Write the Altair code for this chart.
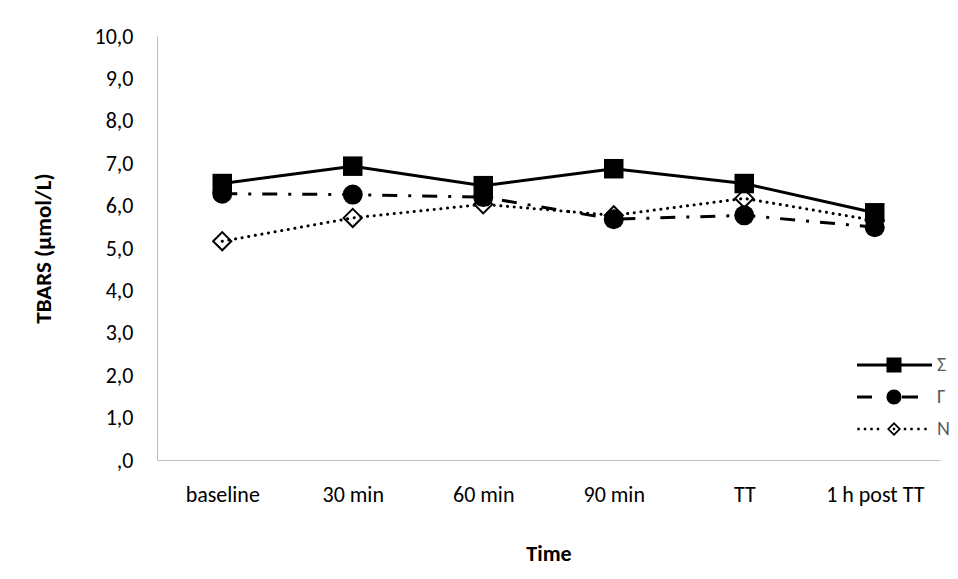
import altair as alt
import pandas as pd

# ---- data ----
times = ["baseline", "30 min", "60 min", "90 min", "TT", "1 h post TT"]
series_names = ["Σ", "Γ", "N"]
sigma_vals = [6.52, 6.93, 6.47, 6.87, 6.52, 5.83]
gamma_vals = [6.28, 6.26, 6.20, 5.68, 5.77, 5.49]
n_vals = [5.16, 5.71, 6.03, 5.77, 6.17, 5.65]
y_ticks = [0, 1, 2, 3, 4, 5, 6, 7, 8, 9, 10]

rows = []
for name, vals in zip(series_names, [sigma_vals, gamma_vals, n_vals]):
    for t, v in zip(times, vals):
        rows.append({"time": t, "series": name, "value": v})
df = pd.DataFrame(rows)

FONT = "Calibri, Carlito, Lato, sans-serif"


# ---- legend glyphs (line + marker), drawn as filled shapes ----
# units: 1 = sqrt(symbolSize)/2 px
def rect(x0, x1, h):
    return f"M{x0},{-h}L{x1},{-h}L{x1},{h}L{x0},{h}Z"


def dot(c, h=0.12):
    return rect(c - h, c + h, h)


leg_sigma = rect(-3.7, 3.8, 0.15) + rect(-0.75, 0.75, 0.75)
leg_gamma = (rect(-3.7, -2.2, 0.15) + rect(0.8, 2.4, 0.15)
             + "M-0.75,0A0.75,0.75,0,1,1,0.75,0A0.75,0.75,0,1,1,-0.75,0Z")
leg_n = ("".join(dot(c) for c in [-3.55, -2.9, -2.25, -1.6, 1.1, 1.75, 2.45, 3.15])
         + "M-0.7,0L0,-0.7L0.7,0L0,0.7Z"
         + "M-0.45,0L0,0.45L0.45,0L0,-0.45Z"
         + dot(0))

x_enc = alt.X(
    "time:N",
    sort=times,
    scale=alt.Scale(type="point", padding=0.5),
    axis=alt.Axis(
        title="Time",
        titleFont=FONT,
        titleFontSize=22,
        titleFontWeight="bold",
        titleColor="black",
        titleY=93,
        titleBaseline="middle",
        labelFont=FONT,
        labelFontSize=22,
        labelColor="black",
        labelPadding=24,
        labelAngle=0,
        ticks=False,
        grid=False,
        domainColor="#bfbfbf",
        domainWidth=1.2,
    ),
)
y_enc = alt.Y(
    "value:Q",
    scale=alt.Scale(domain=[0, 10], nice=False, zero=True),
    axis=alt.Axis(
        values=y_ticks,
        labelExpr="datum.value == 0 ? ',0' : replace(format(datum.value, '.1f'), '.', ',')",
        title="TBARS (µmol/L)",
        titleFont=FONT,
        titleFontSize=23,
        titleFontWeight="bold",
        titleColor="black",
        titleAngle=-90,
        titleX=-114,
        titleY=212,
        titleBaseline="middle",
        labelFont=FONT,
        labelFontSize=22,
        labelColor="black",
        labelPadding=24,
        ticks=False,
        grid=False,
        domainColor="#bfbfbf",
        domainWidth=1.2,
    ),
)

base = alt.Chart(df)

legend_layer = base.mark_point(
    filled=True, fill="black", opacity=0, size=400, strokeWidth=0
).encode(
    x=x_enc,
    y=y_enc,
    shape=alt.Shape(
        "series:N",
        scale=alt.Scale(domain=series_names, range=[leg_sigma, leg_gamma, leg_n]),
        legend=alt.Legend(
            title=None,
            orient="none",
            legendX=727,
            legendY=319,
            symbolSize=400,
            labelOffset=33,
            rowPadding=12,
            padding=0,
        ),
    ),
)


def series_layers(name, dash, cap, shape, filled, size, pstroke):
    d = base.transform_filter(alt.datum.series == name)
    line_kwargs = dict(color="black", strokeWidth=3, strokeCap=cap)
    if dash:
        line_kwargs["strokeDash"] = dash
    line = d.mark_line(**line_kwargs).encode(x=x_enc, y=y_enc)
    if filled:
        pts = d.mark_point(shape=shape, filled=True, fill="black", size=size,
                           opacity=1, strokeWidth=0).encode(x=x_enc, y=y_enc)
    else:
        pts = d.mark_point(shape=shape, filled=False, stroke="black", size=size,
                           strokeWidth=pstroke, opacity=1).encode(x=x_enc, y=y_enc)
    return [line, pts]


layers = [legend_layer]
layers += series_layers("N", [0.1, 6.6], "round", "diamond", False, 330, 2)
layers += series_layers("Γ", [15, 11, 3, 11], "butt", "circle", True, 400, 0)
layers += series_layers("Σ", None, "butt", "square", True, 380, 0)

chart = alt.layer(*layers).properties(
    width=783,
    height=424,
    padding={"left": 149, "top": 28, "right": 10, "bottom": 105},
    autosize=alt.AutoSizeParams(type="none"),
).configure_view(stroke=None).configure_legend(
    labelFont=FONT,
    labelFontSize=20,
    labelColor="#595959",
    symbolFillColor="black",
    symbolStrokeWidth=0,
    symbolOpacity=1,
)

chart.save("out.html", embed_options={"renderer": "svg", "actions": False})
